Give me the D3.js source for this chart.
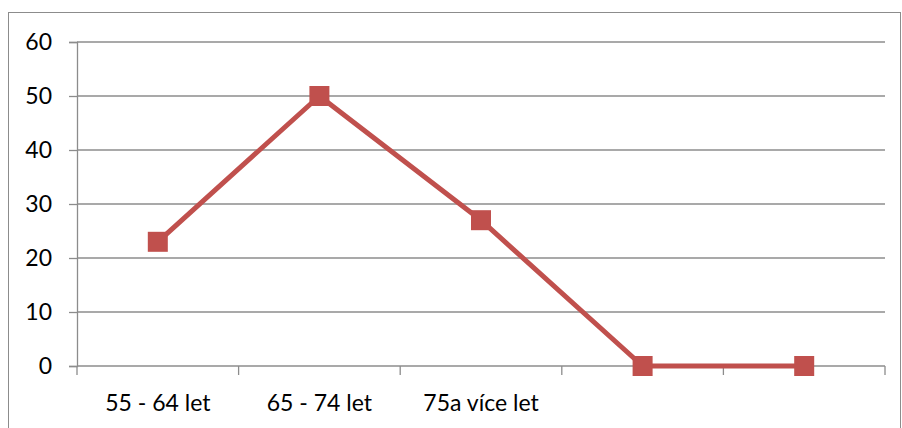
<!DOCTYPE html>
<html><head><meta charset="utf-8">
<script src="https://cdn.jsdelivr.net/npm/d3@7"></script>
<style>body{margin:0;background:#fff}svg{display:block}</style>
</head><body>
<svg id="c" width="902" height="428"></svg>
<script>
const categories = ["55 - 64 let", "65 - 74 let", "75a více let", "", ""];
const values = [23, 50, 27, 0, 0];
const yTicks = [0, 10, 20, 30, 40, 50, 60];

(function () {
const svg = d3.select("#c");
const font = "Lato, 'Open Sans', sans-serif";
const mLeft = 77, mRight = 885, mTop = 42, mBottom = 366;

// outer border
svg.append("rect").attr("x", 8.5).attr("y", 12.5).attr("width", 892).attr("height", 430)
  .attr("fill", "none").attr("stroke", "#8c8c8c").attr("stroke-width", 1);

const x = d3.scaleBand().domain(d3.range(categories.length)).range([mLeft, mRight]);
const y = d3.scaleLinear().domain([0, 60]).range([mBottom, mTop]);

// gridlines
svg.append("g").selectAll("line").data(yTicks.filter(d => d > 0)).join("line")
  .attr("x1", mLeft).attr("x2", mRight)
  .attr("y1", d => y(d)).attr("y2", d => y(d))
  .attr("stroke", "#8c8c8c").attr("stroke-width", 1.3);

// y axis
const ya = svg.append("g").attr("transform", `translate(${mLeft},0)`)
  .call(d3.axisLeft(y).tickValues(yTicks).tickSize(8).tickPadding(17));
ya.select(".domain").attr("stroke", "#8c8c8c").attr("stroke-width", 1.3);
ya.selectAll(".tick line").attr("stroke", "#8c8c8c").attr("stroke-width", 1.3);
ya.selectAll("text").attr("font-family", font).attr("font-size", 23).attr("fill", "#000");

// x axis
const xa = svg.append("g").attr("transform", `translate(0,${mBottom})`)
  .call(d3.axisBottom(x).tickFormat(i => categories[i]).tickSize(0).tickPadding(29));
xa.select(".domain").remove();
xa.selectAll("text").attr("font-family", font).attr("font-size", 23).attr("fill", "#000");
svg.append("line").attr("x1", mLeft).attr("x2", mRight).attr("y1", mBottom).attr("y2", mBottom)
  .attr("stroke", "#8c8c8c").attr("stroke-width", 1.3);
const bounds = d3.range(categories.length + 1).map(i => i < categories.length ? x(i) : mRight);
svg.append("g").selectAll("line").data(bounds).join("line")
  .attr("x1", d => d).attr("x2", d => d).attr("y1", mBottom).attr("y2", mBottom + 9)
  .attr("stroke", "#8c8c8c").attr("stroke-width", 1.3);

// line
const cx = i => x(i) + x.bandwidth() / 2;
svg.append("path").datum(values)
  .attr("d", d3.line().x((d, i) => cx(i)).y(d => y(d)))
  .attr("fill", "none").attr("stroke", "#C0504D").attr("stroke-width", 5)
  .attr("stroke-linejoin", "round");

// markers
svg.append("g").selectAll("rect").data(values).join("rect")
  .attr("x", (d, i) => cx(i) - 10).attr("y", d => y(d) - 10)
  .attr("width", 20).attr("height", 20)
  .attr("fill", "#C0504D");
})();
</script>
</body></html>
